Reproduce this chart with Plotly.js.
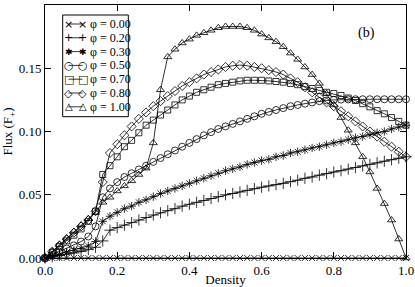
<!DOCTYPE html>
<html>
<head>
<meta charset="utf-8">
<script src="https://cdn.plot.ly/plotly-3.0.1.min.js"></script>
<style>html,body{margin:0;padding:0;background:#fff;}#chart{width:415px;height:287px;}</style>
</head>
<body>
<div id="chart"></div>
<script>
const density = [0.00,0.02,0.04,0.06,0.08,0.10,0.12,0.14,0.16,0.18,0.20,0.22,0.24,0.26,0.28,0.30,0.32,0.34,0.36,0.38,0.40,0.42,0.44,0.46,0.48,0.50,0.52,0.54,0.56,0.58,0.60,0.62,0.64,0.66,0.68,0.70,0.72,0.74,0.76,0.78,0.80,0.82,0.84,0.86,0.88,0.90,0.92,0.94,0.96,0.98,1.00];

const phi000 = [0,0,0,0,0,0,0,0,0,0,0,0,0,0,0,0,0,0,0,0,0,0,0,0,0,0,0,0,0,0,0,0,0,0,0,0,0,0,0,0,0,0,0,0,0,0,0,0,0,0,0];

const phi020 = [0,0.001,0.002,0.003,0.004,0.0052,0.0066,0.0085,0.0135,0.022,0.024,0.026,0.028,0.030,0.032,0.034,0.0357,0.0374,0.039,0.041,0.0425,0.044,0.0455,0.047,0.0485,0.050,0.051,0.0522,0.0535,0.0548,0.056,0.057,0.058,0.059,0.0603,0.0615,0.063,0.064,0.0655,0.0667,0.068,0.069,0.0703,0.0715,0.0728,0.074,0.0752,0.0765,0.0777,0.0789,0.080];

const phi030 = [0,0.0015,0.003,0.0045,0.006,0.0075,0.0095,0.013,0.029,0.033,0.036,0.039,0.041,0.044,0.046,0.0485,0.051,0.053,0.055,0.057,0.059,0.061,0.063,0.065,0.067,0.069,0.0705,0.072,0.074,0.0755,0.077,0.078,0.080,0.081,0.083,0.084,0.0855,0.087,0.088,0.0895,0.091,0.092,0.0935,0.095,0.096,0.0975,0.099,0.100,0.102,0.1035,0.105];

const phi050 = [0,0.0025,0.005,0.0075,0.010,0.013,0.017,0.025,0.048,0.055,0.060,0.064,0.067,0.070,0.073,0.076,0.079,0.082,0.085,0.088,0.091,0.094,0.097,0.0995,0.102,0.104,0.106,0.108,0.110,0.112,0.114,0.1155,0.117,0.1185,0.120,0.121,0.122,0.123,0.124,0.1245,0.125,0.1252,0.1254,0.1255,0.1255,0.1255,0.1255,0.1255,0.1255,0.1255,0.1255];

const phi070 = [0,0.0045,0.009,0.0135,0.018,0.023,0.029,0.037,0.066,0.073,0.080,0.088,0.093,0.099,0.105,0.109,0.113,0.117,0.121,0.125,0.128,0.131,0.133,0.135,0.137,0.138,0.139,0.140,0.1405,0.1405,0.1405,0.140,0.1395,0.139,0.138,0.137,0.1355,0.134,0.1325,0.131,0.130,0.1285,0.1265,0.1245,0.122,0.1195,0.1165,0.114,0.111,0.108,0.105];

const phi080 = [0,0.005,0.010,0.015,0.020,0.025,0.030,0.037,0.060,0.083,0.090,0.097,0.104,0.110,0.115,0.120,0.124,0.128,0.132,0.136,0.139,0.142,0.145,0.147,0.149,0.151,0.152,0.1525,0.152,0.151,0.150,0.1485,0.147,0.145,0.142,0.139,0.135,0.131,0.127,0.123,0.120,0.116,0.112,0.108,0.104,0.100,0.096,0.092,0.088,0.084,0.080];

const phi100 = [0,0.0052,0.0104,0.0156,0.021,0.026,0.031,0.036,0.044,0.048,0.053,0.057,0.061,0.066,0.071,0.091,0.133,0.159,0.165,0.170,0.173,0.176,0.178,0.180,0.182,0.183,0.183,0.183,0.182,0.180,0.177,0.174,0.171,0.167,0.162,0.157,0.151,0.145,0.138,0.130,0.121,0.111,0.101,0.091,0.080,0.068,0.055,0.043,0.030,0.015,0.000];

const legendLabels = ['\u03c6 = 0.00','\u03c6 = 0.20','\u03c6 = 0.30','\u03c6 = 0.50','\u03c6 = 0.70','\u03c6 = 0.80','\u03c6 = 1.00'];
const xTickLabels = ['0.0','0.2','0.4','0.6','0.8','1.0'];
const yTickLabels = ['0.00','0.05','0.10','0.15','0.20'];

const symbols = ['x-thin-open','cross-thin-open','asterisk-open','circle-open','square-open','diamond-open','triangle-up-open'];
const glyphs = ['\u00d7','+','\u2731','\u25cb','\u25a1','\u25c7','\u25b3'];
const glyphSizes = [11,11,9,11,11,11,10];
const sizes = [6,8,7,7,6,7,7];
const series = [phi000,phi020,phi030,phi050,phi070,phi080,phi100];

const traces = series.map((ys,i)=>({
  x: density, y: ys, name: legendLabels[i], type:'scatter', mode:'lines+markers',
  line:{color:'#000', width:0.8},
  marker:{symbol:symbols[i], size:sizes[i], color:'#000', line:{color:'#000', width:0.8}},
  cliponaxis:false, showlegend:false
}));

const fam = '"Liberation Serif", "Times New Roman", serif';
const symFam = '"DejaVu Sans", sans-serif';

// plot area geometry in pixels (for placing the hand-made legend box)
const W = 415, H = 287, mL = 45, mR = 9, mT = 5, mB = 29;
const pw = W - mL - mR, ph = H - mT - mB;
const px = v => (v - mL) / pw;
const py = v => (H - mB - v) / ph;

const shapes = [{type:'rect', xref:'paper', yref:'paper', x0:px(62.7), x1:px(128.3), y0:py(116.7), y1:py(15),
                 line:{color:'#000', width:1}, fillcolor:'#fff', layer:'above'}];
const annotations = [{x:0.89, y:0.178, xref:'x', yref:'y', text:'(b)', showarrow:false,
                      font:{family:fam, size:14, color:'#000'}}];
legendLabels.forEach((lab,i)=>{
  const yc = 24 + i*13.8;
  shapes.push({type:'line', xref:'paper', yref:'paper', x0:px(68.5), x1:px(82.5), y0:py(yc), y1:py(yc),
               line:{color:'#000', width:0.8}, layer:'above'});
  [68.5, 82.5].forEach(xc=>{
    annotations.push({x:px(xc), y:py(yc), xref:'paper', yref:'paper', text:glyphs[i], showarrow:false,
      xanchor:'center', yanchor:'middle', borderpad:0, bgcolor:'rgba(0,0,0,0)',
      font:{family:symFam, size:glyphSizes[i], color:'#000'}});
  });
  annotations.push({x:px(88.5), y:py(yc), xref:'paper', yref:'paper', text:lab, showarrow:false,
    xanchor:'left', yanchor:'middle', borderpad:0, font:{family:fam, size:12, color:'#000'}});
});

const layout = {
  width:W, height:H,
  margin:{l:mL, r:mR, t:mT, b:mB, pad:0},
  paper_bgcolor:'#fff', plot_bgcolor:'#fff',
  font:{family:fam, color:'#000', size:13},
  showlegend:false,
  xaxis:{range:[0,1], tickvals:[0,0.2,0.4,0.6,0.8,1.0], ticktext:xTickLabels,
         ticks:'inside', ticklen:6, tickcolor:'#000', showline:true, linecolor:'#000', linewidth:1, mirror:'ticks',
         showgrid:false, zeroline:false, title:{text:'Density', font:{family:fam, size:13}, standoff:4},
         tickfont:{family:fam, size:13}},
  yaxis:{range:[0,0.2], tickvals:[0,0.05,0.1,0.15,0.2], ticktext:yTickLabels,
         ticks:'inside', ticklen:6, tickcolor:'#000', showline:true, linecolor:'#000', linewidth:1, mirror:'ticks',
         showgrid:false, zeroline:false, title:{text:'Flux (F<sub>+</sub>)', font:{family:fam, size:13}, standoff:6},
         tickfont:{family:fam, size:13}},
  shapes: shapes,
  annotations: annotations
};

Plotly.newPlot('chart', traces, layout, {displayModeBar:false, staticPlot:true});
</script>
</body>
</html>
